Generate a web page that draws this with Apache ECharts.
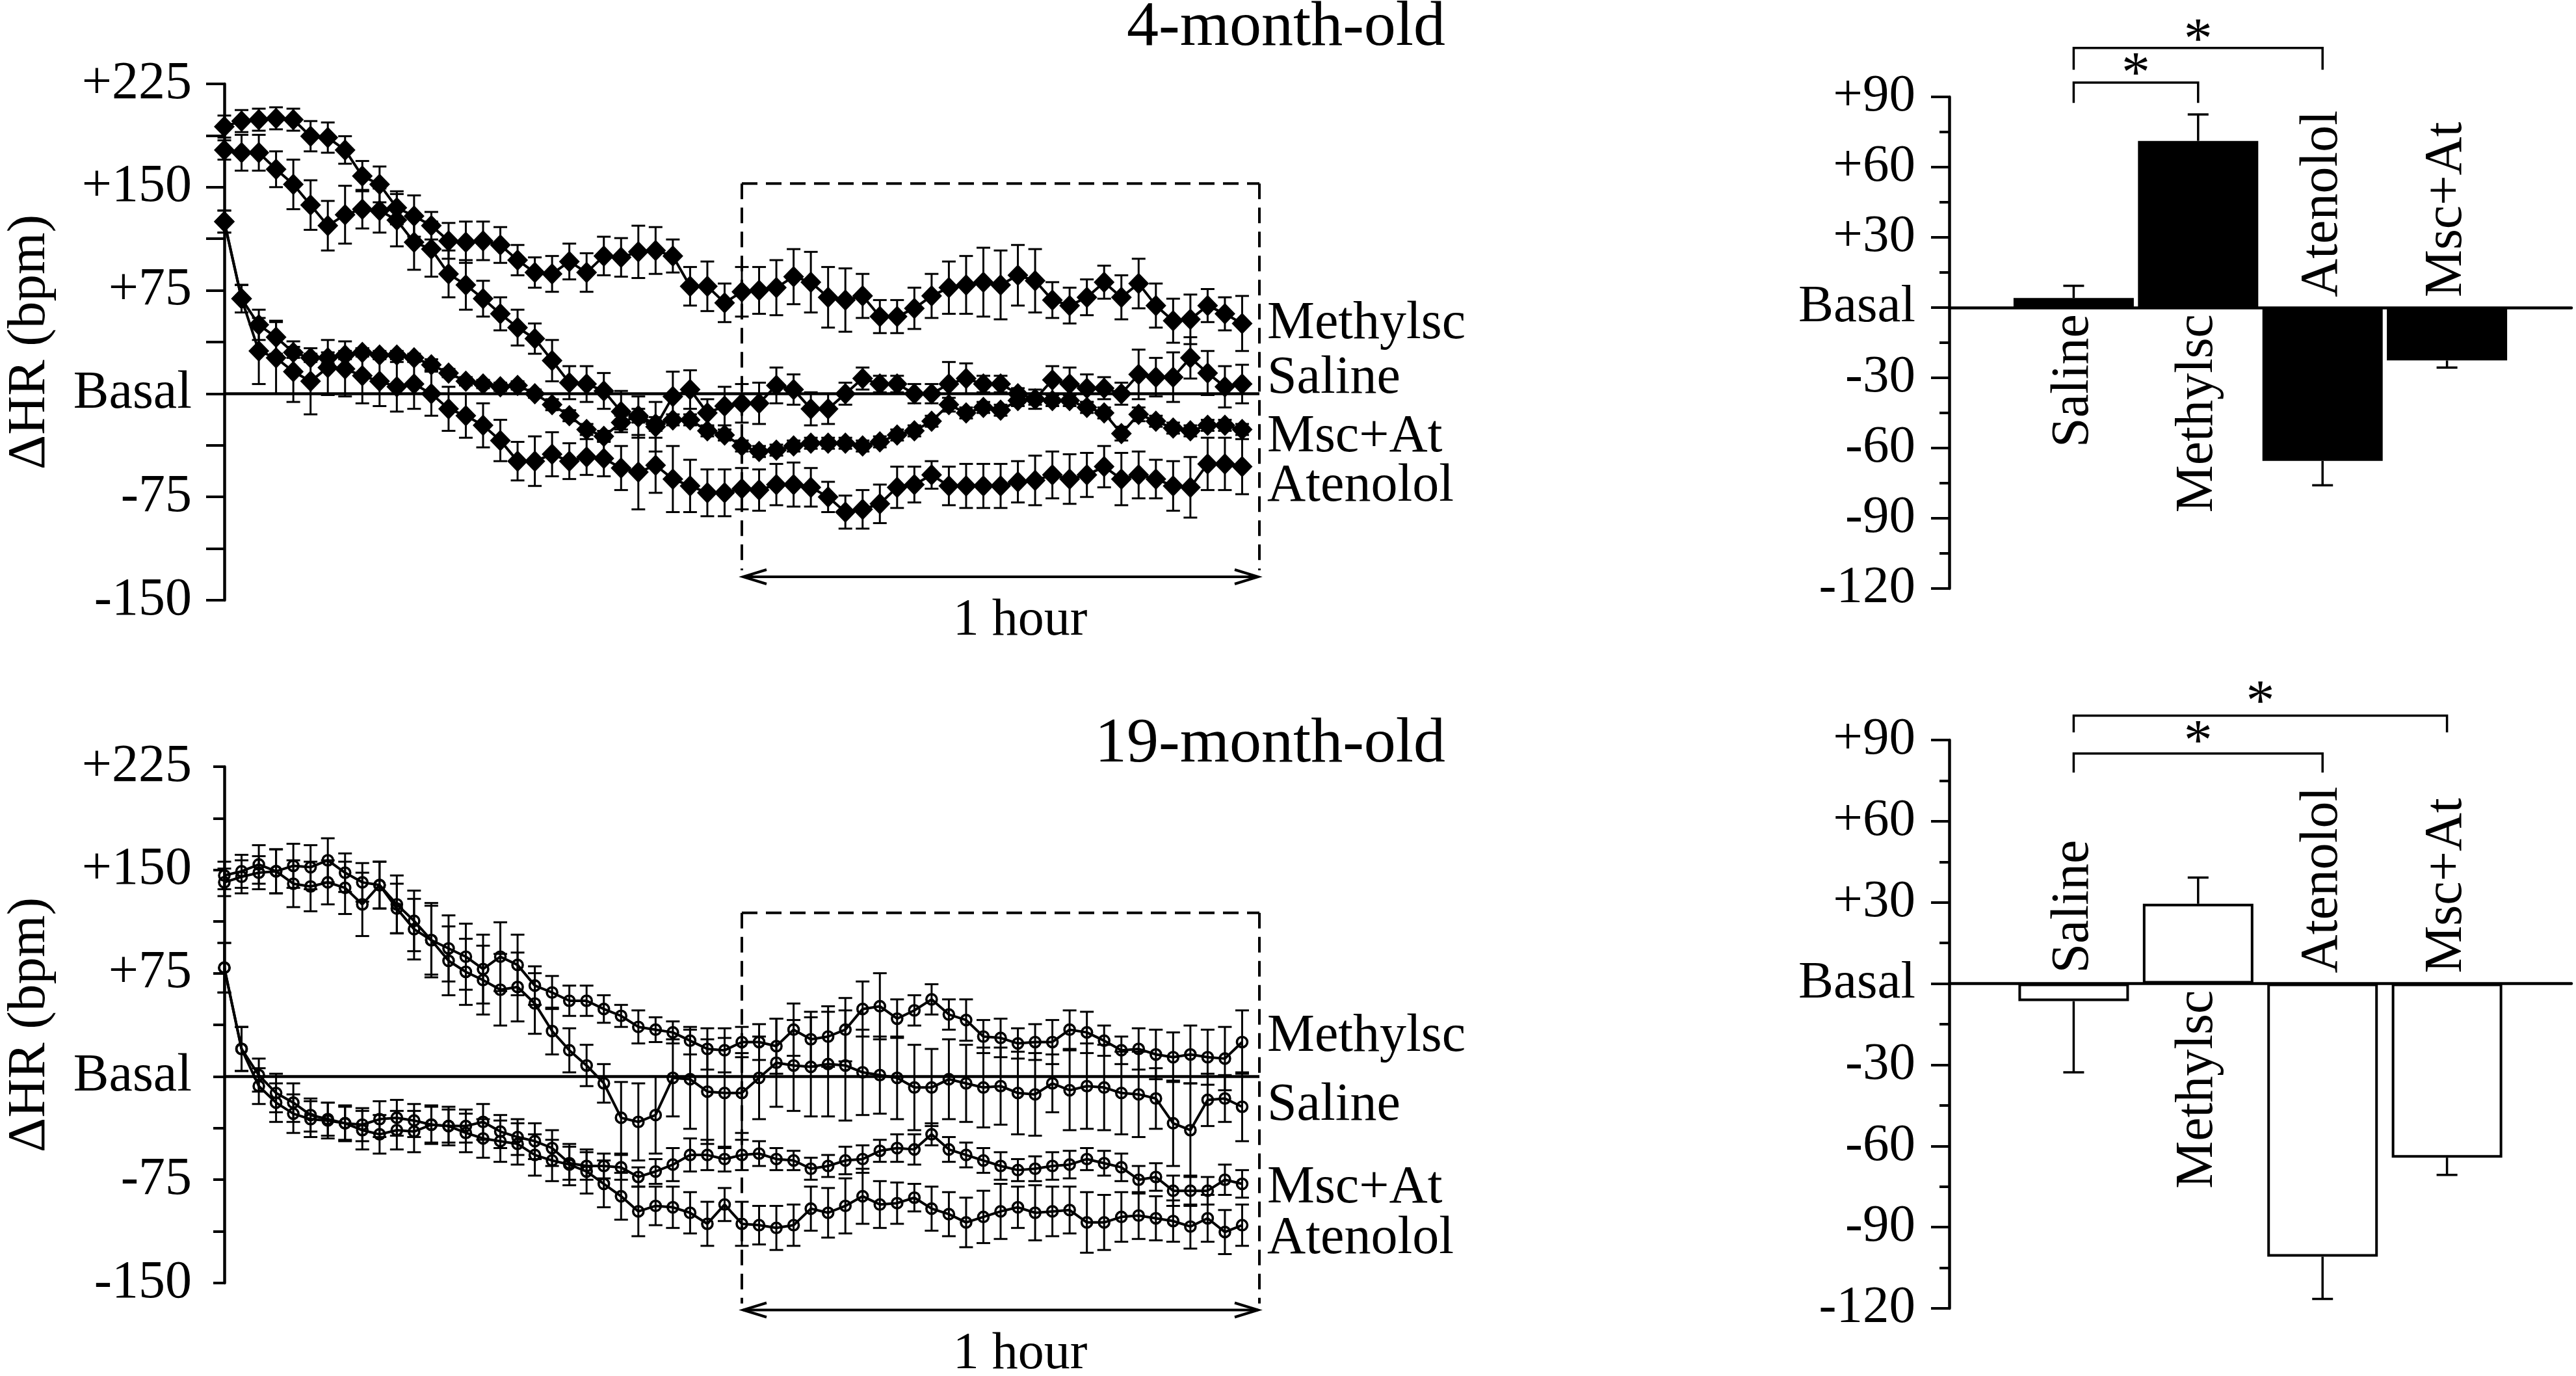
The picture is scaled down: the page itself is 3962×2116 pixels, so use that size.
<!DOCTYPE html>
<html><head><meta charset="utf-8">
<script src="https://cdn.jsdelivr.net/npm/echarts@6/dist/echarts.min.js"></script>
<style>html,body{margin:0;padding:0;background:#fff}#c{width:3962px;height:2116px}</style>
</head><body><div id="c"></div><script>
const FONT = '"Liberation Serif","Times New Roman",serif';

// time after injection (min)
const minutes = [0,2,4,6,8,10,12,14,16,18,20,22,24,26,28,30,32,34,36,38,40,42,44,46,48,50,52,54,56,58,
  60,62,64,66,68,70,72,74,76,78,80,82,84,86,88,90,92,94,96,98,100,102,104,106,108,110,112,114,116,118];
const lineLabels = ['Methylsc','Saline','Msc+At','Atenolol'];
const barCats = ['Saline','Methylsc','Atenolol','Msc+At'];
const lineTicks = [-150,-75,0,75,150,225];
const barTicks = [-120,-90,-60,-30,0,30,60,90];
const yName = 'ΔHR (bpm)';

// 4-month-old
const m4 = [194,198,199,200,199,187,186,177,158,152,135,129,122,111,110,111,108,97,88,87,
  96,88,100,99,103,104,100,78,78,66,74,75,77,85,81,70,68,71,56,56,
  62,71,77,79,81,79,86,82,68,64,70,81,70,80,64,53,54,64,58,51];
const m4Err = [8,8,8,8,8,11,11,10,11,13,12,15,10,13,15,14,13,11,11,13,
  13,14,14,14,19,17,12,14,18,14,18,17,20,20,22,22,23,16,12,12,
  15,16,19,21,25,25,22,23,13,13,13,12,16,18,16,16,18,12,12,20];
const s4 = [177,175,175,163,152,137,122,130,134,133,126,110,105,87,79,69,58,48,40,24,
  8,7,2,-13,-17,-24,-2,3,-14,-9,-7,-7,6,3,-11,-11,0,11,7,7,
  0,0,7,11,7,7,0,-4,10,7,4,4,0,14,12,12,26,15,5,7];
const s4Err = [7,13,13,13,18,18,18,21,14,16,19,20,20,17,18,13,12,13,11,15,
  12,13,13,15,15,18,18,14,10,14,14,15,13,11,12,11,8,8,6,6,
  7,7,16,11,6,6,4,7,10,12,10,8,8,18,14,18,15,16,15,14];
const c4 = [125,69,50,41,30,26,26,28,30,28,28,26,21,15,9,7,5,6,0,-8,
  -16,-26,-31,-21,-16,-22,-19,-19,-27,-30,-38,-42,-41,-38,-36,-36,-36,-38,-35,-30,
  -27,-20,-8,-14,-10,-12,-5,-4,-5,-5,-10,-14,-29,-15,-20,-25,-27,-23,-23,-26];
const c4Err = [8,10,11,12,4,3,4,3,3,3,3,3,4,3,3,3,3,3,3,4,
  4,4,4,5,5,5,4,4,4,4,4,4,4,4,4,4,4,4,4,4,
  4,4,5,4,4,4,4,4,4,4,4,4,5,5,4,4,4,4,4,4];
const a4 = [125,69,31,26,16,9,19,18,13,9,5,7,0,-11,-16,-23,-34,-49,-49,-44,
  -49,-46,-47,-54,-57,-52,-62,-67,-72,-72,-69,-70,-66,-66,-68,-75,-86,-84,-80,-68,
  -66,-59,-67,-67,-67,-67,-64,-63,-59,-62,-59,-53,-62,-59,-62,-67,-68,-51,-51,-53];
const a4Err = [8,10,24,26,22,24,20,20,20,18,18,18,16,16,16,16,15,14,18,16,
  13,13,13,16,27,20,24,19,17,17,15,15,15,16,14,11,12,14,14,15,
  13,10,14,16,16,16,15,18,17,18,16,15,19,17,14,18,22,19,19,20];

// 19-month-old
const m19 = [146,149,154,149,153,152,157,148,141,139,125,113,99,93,87,78,87,81,66,61,
  55,55,49,44,36,34,32,26,20,19,25,25,22,34,27,29,34,49,51,42,
  48,56,45,41,29,28,24,25,25,34,32,26,19,20,16,14,16,14,13,25];
const m19Err = [10,12,14,16,16,16,16,14,14,17,21,22,25,24,24,25,25,22,14,12,
  11,11,10,8,12,9,8,10,15,16,11,13,20,19,20,22,23,20,24,14,
  11,11,11,15,12,14,11,13,16,14,15,11,10,15,18,18,21,20,23,23];
const s19 = [141,145,148,149,140,138,141,137,125,139,122,107,99,84,76,70,63,65,53,33,
  19,8,-5,-30,-33,-28,-1,-2,-11,-12,-12,-1,10,8,7,9,8,3,1,-1,
  -8,-8,-2,-5,-8,-7,-12,-13,-5,-10,-7,-8,-12,-13,-16,-34,-39,-17,-16,-22];
const s19Err = [10,12,12,16,17,18,16,19,23,17,18,22,27,25,24,25,26,25,22,17,
  16,15,14,26,28,28,28,36,38,40,29,30,32,33,36,38,40,31,28,30,
  31,28,29,28,29,28,30,30,21,29,31,31,30,31,22,31,34,19,17,25];
const c19 = [79,20,1,-12,-19,-28,-31,-34,-35,-31,-30,-32,-35,-36,-36,-33,-40,-44,-47,-52,
  -63,-65,-65,-66,-73,-69,-64,-57,-57,-60,-57,-56,-60,-61,-67,-65,-61,-60,-54,-52,
  -53,-42,-53,-57,-61,-65,-68,-67,-65,-64,-60,-63,-66,-75,-73,-83,-83,-83,-75,-78];
const c19Err = [18,16,12,14,14,12,12,12,12,13,13,12,13,12,12,13,12,13,13,13,
  12,10,9,9,7,9,12,12,11,9,11,9,8,7,8,8,10,10,8,10,
  11,8,9,9,9,10,8,9,10,10,8,9,10,10,10,11,11,10,11,10];
const a19 = [79,20,-7,-19,-27,-31,-32,-34,-39,-42,-39,-40,-35,-36,-41,-45,-47,-49,-57,-61,
  -64,-69,-78,-87,-98,-94,-95,-99,-107,-93,-107,-108,-110,-108,-96,-99,-94,-87,-93,-92,
  -88,-96,-100,-106,-102,-98,-95,-99,-98,-97,-106,-106,-102,-101,-103,-105,-109,-103,-113,-108];
const a19Err = [18,16,13,14,14,13,13,13,14,14,14,15,14,14,14,14,15,15,15,15,
  15,16,17,17,18,14,15,15,16,12,16,14,16,15,16,18,20,20,17,15,
  10,16,16,18,19,20,15,20,18,17,22,20,18,17,16,15,16,17,16,15];

// bar charts: mean change over the 1-hour window
const bar4 = [4.1, 71.2, -65.5, -22.6];
const bar4Err = [5.2, 11.3, 10.4, 3.0];
const bar19 = [-6.5, 29.5, -100.9, -64.3];
const bar19Err = [26.3, 9.7, 15.6, 6.4];
const sig4Pairs = [[0,1],[0,2]];
const sig19Pairs = [[0,2],[0,3]];

// ---- layout (annotation placement, in axis units) ----
const windowRange = [60, 120];
const layout4 = {boxTop:152.6, arrow:-133, labelY:[52.9,13.2,-29.3,-65.2],
  sigLine:[96.1,110.9], sigLeg:[87.4,101.6], sigStar:[98.8,113.5]};
const layout19 = {boxTop:118.8, arrow:-169.6, labelY:[31.2,-18.9,-78.9,-115.7],
  sigLine:[85,99], sigLeg:[78,92.8], sigStar:[88.6,103.2]};

function fmt(v){ return v > 0 ? '+' + v : (v === 0 ? 'Basal' : String(v)); }
const BLK = '#000';

function lineY(gi, tickLen){
  return {type:'value', gridIndex:gi, min:lineTicks[0], max:lineTicks[lineTicks.length-1], interval:75,
    axisLine:{show:true, onZero:false, lineStyle:{color:BLK, width:4.5}},
    axisTick:{show:true, length:tickLen, lineStyle:{color:BLK, width:4}},
    minorTick:{show:true, splitNumber:2, length:tickLen, lineStyle:{color:BLK, width:4}},
    splitLine:{show:false}, minorSplitLine:{show:false},
    axisLabel:{fontSize:82, fontFamily:FONT, color:BLK, margin:50, formatter:fmt}};
}
function barY(gi){
  return {type:'value', gridIndex:gi, min:barTicks[0], max:barTicks[barTicks.length-1], interval:30,
    axisLine:{show:true, onZero:false, lineStyle:{color:BLK, width:4.5}},
    axisTick:{show:true, length:28, lineStyle:{color:BLK, width:4}},
    minorTick:{show:true, splitNumber:2, length:15, lineStyle:{color:BLK, width:4}},
    splitLine:{show:false}, minorSplitLine:{show:false},
    axisLabel:{fontSize:81, fontFamily:FONT, color:BLK, margin:52, formatter:fmt}};
}

function errSeries(gi, vals, errs){
  return {type:'custom', xAxisIndex:gi, yAxisIndex:gi, silent:true, z:2,
    data: vals.map((v,i)=>[minutes[i], v, errs[i]]),
    renderItem:(p, api)=>{
      const x=api.value(0), y=api.value(1), e=api.value(2);
      const t=api.coord([x,y+e]), b=api.coord([x,y-e]); const h=10.5;
      const st={stroke:BLK, lineWidth:3};
      return {type:'group', children:[
        {type:'line', shape:{x1:t[0],y1:t[1],x2:b[0],y2:b[1]}, style:st},
        {type:'line', shape:{x1:t[0]-h,y1:t[1],x2:t[0]+h,y2:t[1]}, style:st},
        {type:'line', shape:{x1:b[0]-h,y1:b[1],x2:b[0]+h,y2:b[1]}, style:st}]};
    }};
}
function lineSeries(gi, vals, filled){
  const s = {type:'line', xAxisIndex:gi, yAxisIndex:gi, silent:true, z:3,
    data: vals.map((v,i)=>[minutes[i], v]),
    lineStyle:{color:BLK, width:4}, emphasis:{disabled:true}};
  if (filled){ s.symbol='diamond'; s.symbolSize=[32,33]; s.itemStyle={color:BLK}; }
  else { s.symbol='circle'; s.symbolSize=16; s.itemStyle={color:'rgba(0,0,0,0)', borderColor:BLK, borderWidth:3.6}; }
  return s;
}
function annoSeries(gi, L){
  return {type:'custom', xAxisIndex:gi, yAxisIndex:gi, silent:true, z:1, clip:false, data:[[0,0]],
    renderItem:(p, api)=>{
      const a=api.coord([windowRange[0], L.boxTop]), b=api.coord([windowRange[1], L.boxTop]);
      const ay=api.coord([0, L.arrow])[1];
      const o0=api.coord([minutes[0],0]), o1=api.coord([windowRange[1],0]);
      const top=api.coord([0, lineTicks[lineTicks.length-1]]), bot=api.coord([0, lineTicks[0]]);
      const dash={stroke:BLK, lineWidth:4, lineDash:[24,13]};
      const solid={stroke:BLK, lineWidth:4, fill:null};
      const ch=[
        {type:'line', shape:{x1:o0[0],y1:o0[1],x2:o1[0],y2:o1[1]}, style:{stroke:BLK, lineWidth:4.5}},
        {type:'line', shape:{x1:a[0],y1:a[1],x2:b[0],y2:b[1]}, style:dash},
        {type:'line', shape:{x1:a[0],y1:a[1],x2:a[0],y2:ay-10}, style:dash},
        {type:'line', shape:{x1:b[0],y1:b[1],x2:b[0],y2:ay-10}, style:dash},
        {type:'line', shape:{x1:a[0]+2,y1:ay,x2:b[0]-2,y2:ay}, style:solid},
        {type:'polyline', shape:{points:[[a[0]+38,ay-11],[a[0]+2,ay],[a[0]+38,ay+11]]}, style:solid},
        {type:'polyline', shape:{points:[[b[0]-38,ay-11],[b[0]-2,ay],[b[0]-38,ay+11]]}, style:solid},
        {type:'text', x:(a[0]+b[0])/2+30, y:ay+68, style:{text:'1 hour', fontSize:80, fontFamily:FONT, fill:BLK, align:'center', verticalAlign:'middle'}},
        {type:'text', x:top[0]-299, y:(top[1]+bot[1])/2, rotation:Math.PI/2,
          style:{text:yName, fontSize:83, fontFamily:FONT, fill:BLK, align:'center', verticalAlign:'middle'}}
      ];
      lineLabels.forEach((t,k)=>{
        const q=api.coord([windowRange[1], L.labelY[k]]);
        ch.push({type:'text', x:q[0]+12, y:q[1]+5, style:{text:t, fontSize:82, fontFamily:FONT, fill:BLK, align:'left', verticalAlign:'middle'}});
      });
      return {type:'group', children:ch};
    }};
}
function barSeries(gi, vals, filled, w){
  return {type:'bar', xAxisIndex:gi, yAxisIndex:gi, silent:true, z:2, barWidth:w,
    data: vals.map((v,i)=>[i+1, v]),
    itemStyle: filled ? {color:BLK} : {color:'#fff', borderColor:BLK, borderWidth:4}};
}
function barErrSeries(gi, vals, errs){
  return {type:'custom', xAxisIndex:gi, yAxisIndex:gi, silent:true, z:3,
    data: vals.map((v,i)=>[i+1, v, errs[i]]),
    renderItem:(p, api)=>{
      const x=api.value(0), v=api.value(1), e=api.value(2); const s=v>=0?1:-1;
      const a=api.coord([x,v]), b=api.coord([x,v+s*e]); const h=16;
      const st={stroke:BLK, lineWidth:3.5};
      return {type:'group', children:[
        {type:'line', shape:{x1:a[0],y1:a[1],x2:b[0],y2:b[1]}, style:st},
        {type:'line', shape:{x1:b[0]-h,y1:b[1],x2:b[0]+h,y2:b[1]}, style:st}]};
    }};
}
function barLabelSeries(gi, vals){
  return {type:'custom', xAxisIndex:gi, yAxisIndex:gi, silent:true, z:4, clip:false,
    data: vals.map((v,i)=>[i+1, v]),
    renderItem:(p, api)=>{
      const x=api.value(0), v=api.value(1); const pt=api.coord([x,0]); const below=v>0;
      return {type:'text', x:pt[0], y:pt[1]+(below?10:-16), rotation:Math.PI/2,
        style:{text:barCats[p.dataIndex], fontSize:82, fontFamily:FONT, fill:BLK, align:below?'right':'left', verticalAlign:'middle'}};
    }};
}
function sigSeries(gi, pairs, L){
  return {type:'custom', xAxisIndex:gi, yAxisIndex:gi, silent:true, z:4, clip:false,
    data: pairs.map((pr,k)=>[pr[0]+1, pr[1]+1, k]),
    renderItem:(p, api)=>{
      const x1=api.value(0), x2=api.value(1), k=api.value(2);
      const A=api.coord([x1, L.sigLeg[k]]), B=api.coord([x1, L.sigLine[k]]);
      const C=api.coord([x2, L.sigLine[k]]), D=api.coord([x2, L.sigLeg[k]]);
      const S=api.coord([(x1+x2)/2, L.sigStar[k]]);
      return {type:'group', children:[
        {type:'polyline', shape:{points:[A,B,C,D]}, style:{stroke:BLK, lineWidth:3.5, fill:null}},
        {type:'text', x:S[0], y:S[1], style:{text:'*', fontSize:88, fontFamily:FONT, fill:BLK, align:'center', verticalAlign:'middle'}}]};
    }};
}

const chart = echarts.init(document.getElementById('c'), null, {renderer:'canvas'});
const titleStyle = {fontSize:98, fontFamily:FONT, fontWeight:'normal', color:BLK};
chart.setOption({
  animation:false,
  backgroundColor:'#fff',
  title:[
    {text:'4-month-old', right:1734, top:-11, textStyle:titleStyle},
    {text:'19-month-old', right:1734, top:1091, textStyle:titleStyle}
  ],
  grid:[
    {left:345, top:129, width:1592, height:794, outerBoundsMode:'none'},
    {left:345, top:1179, width:1592, height:794, outerBoundsMode:'none'},
    {left:2998, top:149, width:957, height:756, outerBoundsMode:'none'},
    {left:2998, top:1138, width:957, height:874, outerBoundsMode:'none'}
  ],
  xAxis:[
    {type:'value', gridIndex:0, min:0, max:120, show:false},
    {type:'value', gridIndex:1, min:0, max:120, show:false},
    {type:'value', gridIndex:2, min:0, max:5, axisLine:{show:true, onZero:true, lineStyle:{color:BLK, width:4.5}}, axisTick:{show:false}, axisLabel:{show:false}, splitLine:{show:false}},
    {type:'value', gridIndex:3, min:0, max:5, axisLine:{show:true, onZero:true, lineStyle:{color:BLK, width:4.5}}, axisTick:{show:false}, axisLabel:{show:false}, splitLine:{show:false}}
  ],
  yAxis:[lineY(0,28), lineY(1,17), barY(2), barY(3)],
  series:[
    annoSeries(0, layout4),
    errSeries(0, m4, m4Err), errSeries(0, s4, s4Err), errSeries(0, c4, c4Err), errSeries(0, a4, a4Err),
    lineSeries(0, m4, true), lineSeries(0, s4, true), lineSeries(0, c4, true), lineSeries(0, a4, true),
    annoSeries(1, layout19),
    errSeries(1, m19, m19Err), errSeries(1, s19, s19Err), errSeries(1, c19, c19Err), errSeries(1, a19, a19Err),
    lineSeries(1, m19, false), lineSeries(1, s19, false), lineSeries(1, c19, false), lineSeries(1, a19, false),
    barSeries(2, bar4, true, 185), barErrSeries(2, bar4, bar4Err), barLabelSeries(2, bar4), sigSeries(2, sig4Pairs, layout4),
    barSeries(3, bar19, false, 170), barErrSeries(3, bar19, bar19Err), barLabelSeries(3, bar19), sigSeries(3, sig19Pairs, layout19)
  ]
});
</script></body></html>
